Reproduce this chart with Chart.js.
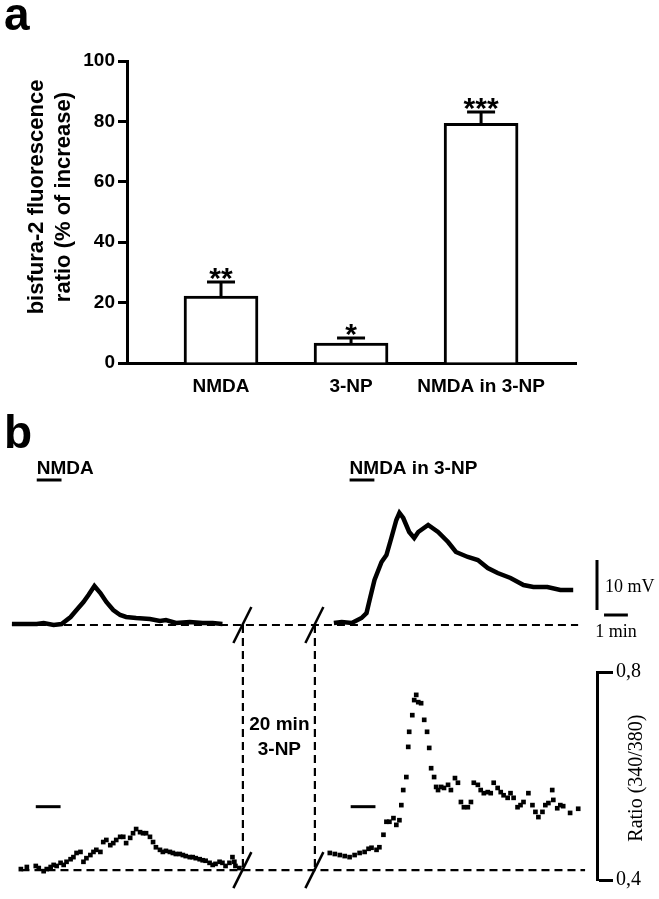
<!DOCTYPE html>
<html>
<head>
<meta charset="utf-8">
<script src="https://cdn.jsdelivr.net/npm/chart.js@4.4.0/dist/chart.umd.min.js"></script>
<style>
	html, body { margin: 0; padding: 0; background: #fff; }
	#fig { position: relative; width: 659px; height: 899px; overflow: hidden; background: #fff; }
	#fig canvas { position: absolute; left: 0; }
	#barChart { top: 0; }
	#traceChart { top: 400px; }
</style>
</head>
<body>
<div id="fig">
	<canvas id="barChart" width="659" height="400"></canvas>
	<canvas id="traceChart" width="659" height="499"></canvas>
</div>
<script>
// panel a
const groups = ['NMDA', '3-NP', 'NMDA in 3-NP'];
const meanRise = [22.2, 6.6, 79.4];
const semRise = [4.6, 1.7, 3.7];
const stars = ['**', '*', '***'];
const riseTicks = [0, 20, 40, 60, 80, 100];
const yTitle = ['bisfura-2 fluorescence', 'ratio (% of increase)'];

// panel b: times in min from the start of each record
const vLeftT = [0, 0.5, 1.04, 1.33, 1.75, 2.08, 2.46, 2.71, 3.0, 3.21, 3.46, 3.71, 3.96, 4.25, 4.54, 4.79, 5.21, 5.79, 6.21, 6.46, 6.88, 7.46, 8.0, 8.42, 8.83];
const vLeftMv = [0.2, 0.2, 0.2, 0.4, 0, 0.2, 1.6, 3.0, 4.6, 6.0, 7.8, 6.4, 4.6, 3.0, 2.0, 1.6, 1.4, 1.2, 0.8, 1.0, 0.4, 0.6, 0.4, 0.4, 0.2];

const vRightT = [0.17, 0.5, 0.92, 1.33, 1.54, 1.67, 1.875, 2.17, 2.375, 2.58, 2.79, 2.92, 3.08, 3.33, 3.54, 3.71, 4.125, 4.54, 4.96, 5.29, 5.79, 6.21, 6.625, 7.04, 7.58, 8.125, 8.54, 9.125, 9.67, 10.21];
const vRightMv = [0.4, 0.6, 0.4, 1.4, 2.4, 5.0, 9.0, 12.6, 14.0, 17.4, 21.0, 22.4, 21.4, 18.6, 17.4, 18.6, 20.0, 18.6, 16.6, 14.6, 13.6, 13.0, 11.4, 10.4, 9.4, 8.0, 7.6, 7.6, 7.0, 7.0];

const rLeftT = [0.375, 0.625, 1.0, 1.125, 1.33, 1.46, 1.625, 1.75, 1.875, 2.04, 2.17, 2.29, 2.46, 2.58, 2.71, 2.875, 3.0, 3.125, 3.29, 3.42, 3.54, 3.71, 3.83, 3.96, 4.125, 4.25, 4.375, 4.54, 4.67, 4.79, 4.96, 5.08, 5.21, 5.375, 5.5, 5.625, 5.79, 5.92, 6.04, 6.21, 6.33, 6.46, 6.625, 6.75, 6.875, 7.04, 7.17, 7.29, 7.46, 7.58, 7.71, 7.875, 8.0, 8.125, 8.29, 8.42, 8.54, 8.71, 8.83, 8.96, 9.125, 9.25, 9.33, 9.375, 9.54];
const rLeftVal = [0.421, 0.425, 0.427, 0.423, 0.417, 0.421, 0.425, 0.429, 0.427, 0.433, 0.429, 0.435, 0.440, 0.444, 0.452, 0.454, 0.435, 0.442, 0.448, 0.454, 0.458, 0.454, 0.473, 0.477, 0.467, 0.471, 0.477, 0.483, 0.483, 0.471, 0.481, 0.490, 0.498, 0.492, 0.490, 0.490, 0.483, 0.473, 0.463, 0.458, 0.454, 0.456, 0.454, 0.452, 0.450, 0.450, 0.448, 0.446, 0.444, 0.444, 0.442, 0.440, 0.438, 0.437, 0.433, 0.429, 0.431, 0.435, 0.433, 0.427, 0.433, 0.444, 0.435, 0.427, 0.423];

const rRightT = [0, 0.21, 0.42, 0.625, 0.83, 1.04, 1.25, 1.46, 1.625, 1.75, 1.96, 2.08, 2.25, 2.375, 2.5, 2.67, 2.79, 2.92, 3.0, 3.08, 3.21, 3.29, 3.33, 3.46, 3.54, 3.625, 3.71, 3.83, 3.96, 4.08, 4.17, 4.25, 4.375, 4.46, 4.54, 4.67, 4.79, 4.96, 5.08, 5.25, 5.375, 5.5, 5.625, 5.79, 5.92, 6.04, 6.21, 6.33, 6.46, 6.625, 6.75, 6.875, 7.04, 7.17, 7.29, 7.46, 7.58, 7.71, 7.875, 8.0, 8.125, 8.33, 8.5, 8.625, 8.75, 8.92, 9.04, 9.17, 9.33, 9.375, 9.54, 9.67, 9.79, 10.08, 10.42];
const rRightVal = [0.452, 0.450, 0.448, 0.446, 0.444, 0.448, 0.452, 0.454, 0.460, 0.462, 0.458, 0.463, 0.487, 0.512, 0.512, 0.519, 0.506, 0.515, 0.544, 0.573, 0.598, 0.656, 0.685, 0.717, 0.746, 0.756, 0.742, 0.740, 0.708, 0.685, 0.654, 0.615, 0.598, 0.579, 0.573, 0.579, 0.577, 0.583, 0.573, 0.596, 0.587, 0.550, 0.540, 0.540, 0.550, 0.587, 0.583, 0.573, 0.567, 0.569, 0.567, 0.587, 0.577, 0.569, 0.563, 0.558, 0.567, 0.558, 0.540, 0.544, 0.550, 0.567, 0.544, 0.531, 0.521, 0.531, 0.544, 0.548, 0.573, 0.554, 0.538, 0.544, 0.542, 0.529, 0.537];

const ratioTicks = [0.4, 0.8];
const nmdaOnV = [1.04, 0.83];
const nmdaOnR = [1.0, 0.875];
const nmdaDur = 1.04;
const ratioBase = 0.419;
const recordLabels = ['NMDA', 'NMDA in 3-NP'];
const gapLabel = ['20 min', '3-NP'];

// layout (axis minutes / axis units)
const T0 = [0.333, 13.667];
const BREAKS = [10.0, 13.02];
const MARK_MV = 29;
const MARK_RATIO = 0.541;

const black = '#000';
const sans = 'Liberation Sans, Arial, sans-serif';
const serif = 'Liberation Serif, Times New Roman, serif';
const dash = [8, 5];

Chart.defaults.font.family = sans;
Chart.defaults.color = black;

const errorBars = {
	id: 'errorBars',
	afterDatasetsDraw(chart) {
		const {ctx} = chart;
		const y = chart.scales.y;
		const meta = chart.getDatasetMeta(0);
		ctx.save();
		ctx.strokeStyle = black;
		ctx.fillStyle = black;
		ctx.lineWidth = 3;
		ctx.font = `bold 30px ${sans}`;
		ctx.textAlign = 'center';
		meta.data.forEach((bar, i) => {
			const top = y.getPixelForValue(meanRise[i] + semRise[i]);
			ctx.beginPath();
			ctx.moveTo(bar.x, bar.y);
			ctx.lineTo(bar.x, top);
			ctx.moveTo(bar.x - 14, top);
			ctx.lineTo(bar.x + 14, top);
			ctx.stroke();
			ctx.fillText(stars[i], bar.x, top + 6);
		});
		ctx.restore();
	}
};

const panelA = {
	id: 'panelA',
	afterDraw(chart) {
		const {ctx} = chart;
		ctx.save();
		ctx.fillStyle = black;
		ctx.font = `bold 46px ${sans}`;
		ctx.fillText('a', 4, 30);
		ctx.font = `bold 22px ${sans}`;
		ctx.textAlign = 'center';
		yTitle.forEach((line, i) => {
			ctx.save();
			ctx.translate(43 + i * 27, 197);
			ctx.rotate(-Math.PI / 2);
			ctx.fillText(line, 0, 0);
			ctx.restore();
		});
		ctx.restore();
	}
};

new Chart(document.getElementById('barChart'), {
	type: 'bar',
	data: {
		datasets: [{
			data: meanRise.map((y, i) => ({x: i, y})),
			backgroundColor: '#fff',
			borderColor: black,
			borderWidth: 3,
			barThickness: 74,
		}]
	},
	options: {
		responsive: false,
		animation: false,
		devicePixelRatio: 1,
		layout: {padding: {top: 61, right: 83, left: 0, bottom: 0}},
		plugins: {legend: {display: false}, tooltip: {enabled: false}},
		scales: {
			x: {
				type: 'linear',
				offset: false,
				min: -0.723,
				max: 2.73,
				afterBuildTicks: (s) => { s.ticks = groups.map((_, i) => ({value: i})); },
				afterFit: (s) => { s.height = 37; },
				ticks: {callback: (v) => groups[v], font: {size: 19, weight: 'bold'}, color: black, padding: 4, maxRotation: 0, autoSkip: false},
				grid: {display: false},
				border: {display: true, color: black, width: 3},
			},
			y: {
				min: 0,
				max: 100,
				afterBuildTicks: (s) => { s.ticks = riseTicks.map((value) => ({value})); },
				afterFit: (s) => { s.width = 127; },
				ticks: {font: {size: 19, weight: 'bold'}, color: black, padding: 3},
				grid: {drawOnChartArea: false, drawTicks: true, tickLength: 9, tickWidth: 3, tickColor: black},
				border: {display: true, color: black, width: 3},
			}
		}
	},
	plugins: [errorBars, panelA]
});

// panel b
const xy = (ts, vs, t0) => ts.map((t, i) => ({x: t0 + t, y: vs[i]}));
const seg = (x0, x1, y) => [{x: x0, y}, {x: x1, y}];
const line = (data, axis, width, dashes) => ({
	type: 'line',
	data,
	yAxisID: axis,
	borderColor: black,
	borderWidth: width,
	borderDash: dashes || [],
	pointRadius: 0,
	tension: 0,
	clip: false,
});
const dots = (data) => ({
	data,
	yAxisID: 'yR',
	pointStyle: 'rect',
	pointRadius: 3.3,
	backgroundColor: black,
	borderWidth: 0,
	clip: false,
});

const panelB = {
	id: 'panelB',
	afterDatasetsDraw(chart) {
		const {ctx} = chart;
		const {x, yV, yR} = chart.scales;
		const vBase = yV.getPixelForValue(0);
		const rBase = yR.getPixelForValue(ratioBase);
		ctx.save();
		ctx.strokeStyle = black;
		ctx.lineWidth = 2.2;
		ctx.setLineDash(dash);
		BREAKS.forEach((t) => {
			const px = x.getPixelForValue(t) + 0.5;
			ctx.beginPath();
			ctx.moveTo(px, vBase);
			ctx.lineTo(px, rBase);
			ctx.stroke();
		});
		ctx.setLineDash([]);
		ctx.lineWidth = 2.5;
		BREAKS.forEach((t) => {
			const px = x.getPixelForValue(t);
			[vBase, rBase].forEach((py) => {
				ctx.beginPath();
				ctx.moveTo(px - 9, py + 18);
				ctx.lineTo(px + 9, py - 18);
				ctx.stroke();
			});
		});

		ctx.fillStyle = black;
		ctx.font = `bold 46px ${sans}`;
		ctx.fillText('b', 4, 48);
		ctx.font = `bold 19px ${sans}`;
		recordLabels.forEach((label, i) => {
			ctx.fillText(label, x.getPixelForValue(T0[i] + nmdaOnV[i]), yV.getPixelForValue(MARK_MV) - 6);
		});
		ctx.textAlign = 'center';
		const mid = (x.getPixelForValue(BREAKS[0]) + x.getPixelForValue(BREAKS[1])) / 2 + 1;
		ctx.fillText(gapLabel[0], mid, vBase + 105);
		ctx.fillText(gapLabel[1], mid, vBase + 130);

		ctx.font = `18px ${serif}`;
		ctx.textAlign = 'left';
		ctx.fillText('10 mV', x.getPixelForValue(24.875) + 8, yV.getPixelForValue(8) + 7);
		ctx.textAlign = 'center';
		ctx.fillText('1 min', x.getPixelForValue(25.67), yV.getPixelForValue(2) + 22);

		ctx.font = `20px ${serif}`;
		ctx.save();
		ctx.translate(642, yR.getPixelForValue(0.596));
		ctx.rotate(-Math.PI / 2);
		ctx.fillText('Ratio (340/380)', 0, 0);
		ctx.restore();
		ctx.restore();
	}
};

new Chart(document.getElementById('traceChart'), {
	type: 'scatter',
	data: {
		datasets: [
			line(xy(vLeftT, vLeftMv, T0[0]), 'yV', 4.5),
			line(xy(vRightT, vRightMv, T0[1]), 'yV', 4.5),
			dots(xy(rLeftT, rLeftVal, T0[0])),
			dots(xy(rRightT, rRightVal, T0[1])),
			line(seg(T0[0], 24.083, 0), 'yV', 2.2, dash),
			line(seg(T0[0] + 0.4, 24.375, ratioBase), 'yR', 2.2, dash),
			line([{x: 24.875, y: 3}, {x: 24.875, y: 13}], 'yV', 3),
			line(seg(25.17, 26.17, 2), 'yV', 3),
			line(seg(T0[0] + nmdaOnV[0], T0[0] + nmdaOnV[0] + nmdaDur, MARK_MV), 'yV', 3),
			line(seg(T0[1] + nmdaOnV[1], T0[1] + nmdaOnV[1] + nmdaDur, MARK_MV), 'yV', 3),
			line(seg(T0[0] + nmdaOnR[0], T0[0] + nmdaOnR[0] + nmdaDur, MARK_RATIO), 'yR', 3),
			line(seg(T0[1] + nmdaOnR[1], T0[1] + nmdaOnR[1] + nmdaDur, MARK_RATIO), 'yR', 3),
		]
	},
	options: {
		responsive: false,
		animation: false,
		devicePixelRatio: 1,
		layout: {padding: {top: 272, bottom: 19, left: 0, right: 0}},
		plugins: {legend: {display: false}, tooltip: {enabled: false}},
		scales: {
			x: {type: 'linear', display: false, min: 0, max: 24.875},
			y: {display: false},
			yV: {type: 'linear', display: false, min: -51, max: -9.4},
			yR: {
				type: 'linear',
				position: 'right',
				min: 0.4,
				max: 0.8,
				afterBuildTicks: (s) => { s.ticks = ratioTicks.map((value) => ({value})); },
				afterFit: (s) => { s.width = 62; },
				ticks: {
					callback: (v) => v.toFixed(1).replace('.', ','),
					font: {family: serif, size: 20},
					color: black,
					padding: 3,
				},
				grid: {drawOnChartArea: false, drawTicks: true, tickLength: 16, tickWidth: 3, tickColor: black},
				border: {display: true, color: black, width: 3},
			}
		}
	},
	plugins: [panelB]
});
</script>
</body>
</html>
